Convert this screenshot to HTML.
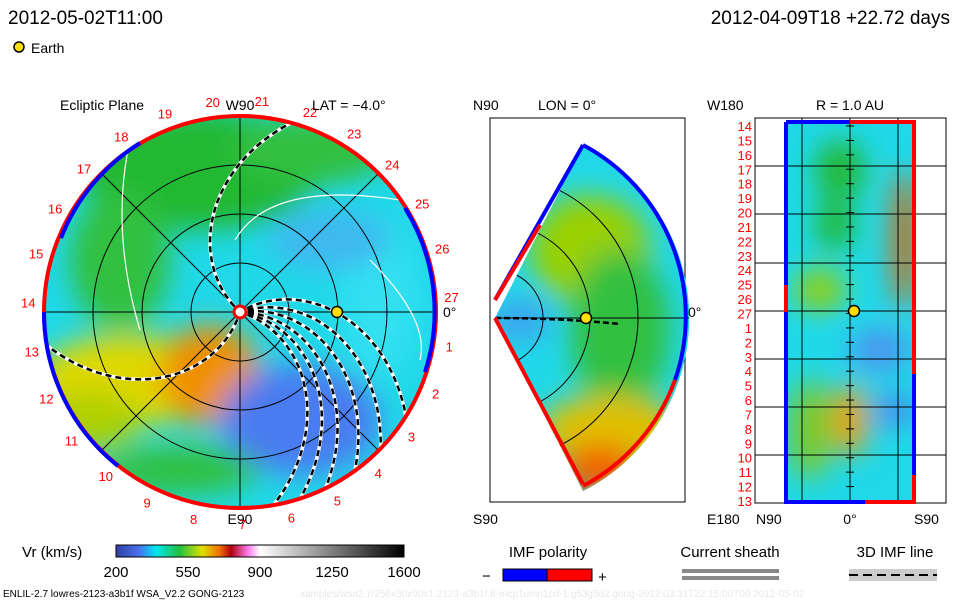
<!DOCTYPE html>
<html><head><meta charset="utf-8"><style>
body{margin:0;background:#fff}
svg{display:block;font-family:"Liberation Sans",sans-serif}
</style></head><body>
<svg id="s" width="960" height="600" viewBox="0 0 960 600">
<defs>
<filter id="bl" x="-50%" y="-50%" width="200%" height="200%"><feGaussianBlur stdDeviation="14"/></filter>
<clipPath id="cl"><circle cx="240" cy="312" r="196"/></clipPath>
<clipPath id="cm"><path d="M495,318 L583,145 A194,194 0 0 1 583,491 Z"/></clipPath>
<clipPath id="cr"><rect x="786" y="122" width="128" height="380"/></clipPath>
<linearGradient id="cb" x1="0" x2="1">
<stop offset="0" stop-color="#3040a0"/><stop offset="0.08" stop-color="#4a70f0"/><stop offset="0.14" stop-color="#00e8f0"/><stop offset="0.22" stop-color="#20c040"/><stop offset="0.3" stop-color="#e0e000"/><stop offset="0.36" stop-color="#f07000"/><stop offset="0.4" stop-color="#b00010"/><stop offset="0.46" stop-color="#ff80f0"/><stop offset="0.5" stop-color="#ffffff"/><stop offset="1" stop-color="#000000"/>
</linearGradient>
</defs>
<text x="8" y="24" font-size="19">2012-05-02T11:00</text>
<text x="950" y="24" font-size="19" text-anchor="end">2012-04-09T18  +22.72 days</text>
<circle cx="19" cy="47" r="5" fill="#ffe000" stroke="#000" stroke-width="1.5"/>
<text x="31" y="53" font-size="14">Earth</text>

<g>
<g clip-path="url(#cl)">
<circle cx="240" cy="312" r="196" fill="#20d8e8"/>
<g filter="url(#bl)">
<ellipse cx="200" cy="170" rx="120" ry="60" fill="#22b830"/>
<ellipse cx="310" cy="150" rx="80" ry="35" fill="#30c040"/>
<ellipse cx="120" cy="260" rx="50" ry="70" fill="#30c040"/>
<ellipse cx="130" cy="380" rx="95" ry="45" fill="#e0d800"/>
<ellipse cx="210" cy="375" rx="50" ry="50" fill="#f09000"/>
<ellipse cx="90" cy="420" rx="50" ry="30" fill="#b0d000"/>
<ellipse cx="300" cy="420" rx="80" ry="55" fill="#4a7cf0"/>
<ellipse cx="180" cy="470" rx="80" ry="25" fill="#30c040"/>
<ellipse cx="380" cy="300" rx="40" ry="80" fill="#30e0f0"/>
<ellipse cx="330" cy="240" rx="60" ry="30" fill="#40b8f0"/>
</g>
<g fill="none" stroke="#000" stroke-width="1">
<circle cx="240" cy="312" r="49"/><circle cx="240" cy="312" r="98"/><circle cx="240" cy="312" r="147"/>
<line x1="44" y1="312" x2="436" y2="312"/><line x1="240" y1="116" x2="240" y2="508"/>
<line x1="101" y1="173" x2="379" y2="451"/><line x1="101" y1="451" x2="379" y2="173"/>
</g>
<g fill="none" stroke="#fff" stroke-width="1.2">
<path d="M130,140 Q110,230 140,330"/><path d="M235,240 Q270,180 400,200"/><path d="M370,260 Q430,320 420,360"/>
</g>
<g id="spirals" fill="none" stroke="#fff" stroke-width="3.5"></g>
<g id="spirals2" fill="none" stroke="#000" stroke-width="2.5" stroke-dasharray="6 4"></g>
</g>
<circle cx="240" cy="312" r="196" fill="none" stroke="#ff0000" stroke-width="4"/>
<path d="M61,238 A196,196 0 0 1 140,143" fill="none" stroke="#0000ff" stroke-width="4"/>
<path d="M44,312 A196,196 0 0 0 118,466" fill="none" stroke="#0000ff" stroke-width="4"/>
<path d="M405,208 A196,196 0 0 1 425,372" fill="none" stroke="#0000ff" stroke-width="4"/>
<circle cx="240" cy="312" r="6" fill="#fff" stroke="#f00" stroke-width="3"/>
<circle cx="337" cy="312" r="5.5" fill="#ffe000" stroke="#000" stroke-width="1.5"/>
<g id="days" fill="#f00" font-size="13" text-anchor="middle"></g>
<text x="60" y="110" font-size="14">Ecliptic Plane</text>
<text x="240" y="110" font-size="14" text-anchor="middle">W90</text>
<text x="312" y="110" font-size="14">LAT = −4.0°</text>
<text x="240" y="524" font-size="14" text-anchor="middle">E90</text>
<text x="443" y="317" font-size="14">0°</text>
</g>

<g>
<rect x="490" y="118" width="195" height="384" fill="none" stroke="#000"/>
<g clip-path="url(#cm)">
<rect x="490" y="118" width="200" height="384" fill="#20d8e8"/>
<g filter="url(#bl)">
<ellipse cx="590" cy="250" rx="60" ry="55" fill="#9ad000"/>
<ellipse cx="620" cy="330" rx="50" ry="80" fill="#30c040"/>
<ellipse cx="610" cy="430" rx="70" ry="35" fill="#e0c000"/>
<ellipse cx="600" cy="470" rx="40" ry="25" fill="#f06000"/>
<ellipse cx="520" cy="320" rx="30" ry="20" fill="#40a0f0"/>
</g>
<g fill="none" stroke="#000">
<circle cx="495" cy="318" r="48"/><circle cx="495" cy="318" r="95"/><circle cx="495" cy="318" r="143"/>
<line x1="495" y1="318" x2="690" y2="318"/>
</g>
<path d="M495,318 Q560,318 620,324" fill="none" stroke="#000" stroke-width="2.5" stroke-dasharray="6 3"/>
</g>
<path d="M495,300 L583,145" stroke="#00f" stroke-width="4"/>
<path d="M495,318 L583,484" stroke="#f00" stroke-width="4"/>
<path d="M583,145 A194,194 0 0 1 675,380" fill="none" stroke="#00f" stroke-width="4"/>
<path d="M675,380 A194,194 0 0 1 583,486" fill="none" stroke="#f00" stroke-width="4"/>
<path d="M495,300 L540,225" stroke="#f00" stroke-width="4"/>
<circle cx="586" cy="318" r="5.5" fill="#ffe000" stroke="#000" stroke-width="1.5"/>
<text x="473" y="110" font-size="14">N90</text>
<text x="538" y="110" font-size="14">LON = 0°</text>
<text x="473" y="524" font-size="14">S90</text>
<text x="688" y="317" font-size="14">0°</text>
</g>

<g>
<rect x="755" y="118" width="191" height="385" fill="none" stroke="#000"/>
<g clip-path="url(#cr)">
<rect x="786" y="122" width="128" height="380" fill="#20d8e8"/>
<g filter="url(#bl)">
<ellipse cx="840" cy="170" rx="25" ry="30" fill="#22b830"/>
<ellipse cx="835" cy="225" rx="20" ry="25" fill="#22b830"/>
<ellipse cx="820" cy="290" rx="25" ry="20" fill="#9ad000"/>
<ellipse cx="905" cy="240" rx="12" ry="70" fill="#e06000"/>
<ellipse cx="880" cy="350" rx="30" ry="20" fill="#5090f0"/>
<ellipse cx="850" cy="420" rx="18" ry="35" fill="#f0a000"/>
<ellipse cx="810" cy="430" rx="20" ry="50" fill="#80c820"/>
<ellipse cx="895" cy="410" rx="20" ry="15" fill="#4a7cf0"/>
</g>
</g>
<g id="rgrid" stroke="#000"></g>
<path d="M786,122 L850,122 M786,122 L786,285 M786,312 L786,502 L865,502 M914,374 L914,475" stroke="#00f" stroke-width="4" fill="none"/>
<path d="M850,122 L914,122 L914,374 M786,285 L786,312 M914,475 L914,502 L865,502" stroke="#f00" stroke-width="4" fill="none"/>
<circle cx="854" cy="311" r="5.5" fill="#ffe000" stroke="#000" stroke-width="1.5"/>
<g id="rdays" fill="#f00" font-size="13" text-anchor="end"></g>
<text x="707" y="110" font-size="14">W180</text>
<text x="850" y="110" font-size="14" text-anchor="middle">R = 1.0 AU</text>
<text x="707" y="524" font-size="14">E180</text>
<text x="756" y="524" font-size="14">N90</text>
<text x="850" y="524" font-size="14" text-anchor="middle">0°</text>
<text x="914" y="524" font-size="14">S90</text>
</g>

<g>
<text x="22" y="557" font-size="15">Vr (km/s)</text>
<rect x="116" y="545" width="288" height="12" fill="url(#cb)" stroke="#000"/>
<g id="cbt" font-size="15" text-anchor="middle"></g>
</g>
<g>
<text x="548" y="557" font-size="15" text-anchor="middle">IMF polarity</text>
<rect x="503" y="569" width="44" height="12" fill="#00f" stroke="#000"/><rect x="547" y="569" width="45" height="12" fill="#f00" stroke="#000"/>
<text x="482" y="581" font-size="15">−</text><text x="598" y="582" font-size="15">+</text>
</g>
<g>
<text x="730" y="557" font-size="15" text-anchor="middle">Current sheath</text>
<rect x="682" y="569" width="97" height="4" fill="#888"/><rect x="682" y="576" width="97" height="4" fill="#888"/>
</g>
<g>
<text x="895" y="557" font-size="15" text-anchor="middle">3D IMF line</text>
<rect x="849" y="569" width="88" height="12" fill="#ccc"/>
<line x1="849" y1="575" x2="937" y2="575" stroke="#000" stroke-width="2" stroke-dasharray="9 5"/>
</g>
<text x="3" y="597" font-size="10">ENLIL-2.7 lowres-2123-a3b1f WSA_V2.2 GONG-2123</text>
<text x="300" y="597" font-size="10" fill="#e8e8e8">xamples/wsa2.7/256x30x90x1.2123-a3b1f.8-mcp1umn1cd-1.g53g5d2.gong-2012:03:31T22:15:00T00   2012-05-02</text>
</svg>
<script>
const cbTicks=[200,550,900,1250,1600];
const dayLabels=[27,1,2,3,4,5,6,7,8,9,10,11,12,13,14,15,16,17,18,19,20,21,22,23,24,25,26];
const mapDays=[14,15,16,17,18,19,20,21,22,23,24,25,26,27,1,2,3,4,5,6,7,8,9,10,11,12,13];
const spiralStarts=[-28,-16,-6,4,12,20,110,-135];
const NS="http://www.w3.org/2000/svg";
const vx=v=>116+(v-200)/1400*288;
const g=document.getElementById('cbt');
cbTicks.forEach(v=>{const t=document.createElementNS(NS,'text');t.setAttribute('x',vx(v));t.setAttribute('y',577);t.textContent=v;


g.appendChild(t);});
const d=document.getElementById('days');
dayLabels.forEach((n,i)=>{const a=(4-i*13.33)*Math.PI/180;const t=document.createElementNS(NS,'text');
t.setAttribute('x',240+212*Math.cos(a));t.setAttribute('y',312-212*Math.sin(a)+5);t.textContent=n;


d.appendChild(t);});
const rd=document.getElementById('rdays');const rg=document.getElementById('rgrid');
mapDays.forEach((n,i)=>{const y=126+i*(375/26);const t=document.createElementNS(NS,'text');
t.setAttribute('x',752);t.setAttribute('y',y+5);t.textContent=n;


rd.appendChild(t);
const l=document.createElementNS(NS,'line');l.setAttribute('x1',846);l.setAttribute('x2',854);l.setAttribute('y1',y);l.setAttribute('y2',y);rg.appendChild(l);});
[166,214,263,311,359,407,455].forEach(y=>{const l=document.createElementNS(NS,'line');l.setAttribute('x1',755);l.setAttribute('x2',946);l.setAttribute('y1',y);l.setAttribute('y2',y);rg.appendChild(l);});
[802,850,898].forEach(x=>{const l=document.createElementNS(NS,'line');l.setAttribute('x1',x);l.setAttribute('x2',x);l.setAttribute('y1',118);l.setAttribute('y2',503);rg.appendChild(l);});
const s1=document.getElementById('spirals'),s2=document.getElementById('spirals2');
spiralStarts.forEach(a0=>{let p='';for(let r=8;r<=196;r+=4){const a=(a0+(r-8)*0.32)*Math.PI/180;
const x=240+r*Math.cos(a),y=312+r*Math.sin(a);p+=(p?'L':'M')+x.toFixed(1)+','+y.toFixed(1);}
[s1,s2].forEach(s=>{const e=document.createElementNS(NS,'path');e.setAttribute('d',p);


s.appendChild(e);});});
</script>
</body></html>
